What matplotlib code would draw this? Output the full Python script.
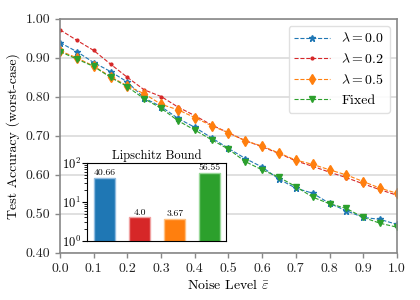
import numpy as np
import matplotlib
matplotlib.use('Agg')
import matplotlib.pyplot as plt

plt.rcParams['font.family'] = 'serif'
plt.rcParams['font.serif'] = ['cmr10']
plt.rcParams['mathtext.fontset'] = 'cm'
plt.rcParams['axes.formatter.use_mathtext'] = True

# noise levels
noise = [0.0, 0.05, 0.1, 0.15, 0.2, 0.25, 0.3, 0.35, 0.4, 0.45, 0.5,
         0.55, 0.6, 0.65, 0.7, 0.75, 0.8, 0.85, 0.9, 0.95, 1.0]

acc_l00 = [0.939, 0.916, 0.888, 0.865, 0.838, 0.797, 0.775, 0.745, 0.722, 0.695, 0.668,
           0.642, 0.620, 0.589, 0.566, 0.553, 0.527, 0.508, 0.491, 0.486, 0.473]
acc_l02 = [0.972, 0.945, 0.919, 0.884, 0.850, 0.818, 0.801, 0.774, 0.752, 0.728, 0.708,
           0.688, 0.672, 0.655, 0.636, 0.622, 0.607, 0.593, 0.577, 0.562, 0.548]
acc_l05 = [0.918, 0.900, 0.879, 0.852, 0.828, 0.808, 0.781, 0.767, 0.747, 0.726, 0.708,
           0.687, 0.674, 0.656, 0.638, 0.627, 0.613, 0.600, 0.583, 0.566, 0.553]
acc_fixed = [0.916, 0.897, 0.878, 0.850, 0.826, 0.795, 0.771, 0.739, 0.715, 0.690, 0.666,
             0.634, 0.613, 0.594, 0.570, 0.543, 0.526, 0.514, 0.491, 0.476, 0.466]

# inset: lipschitz bounds
lip_vals = [40.66, 4.0, 3.67, 56.55]
lip_labels = ['40.66', '4.0', '3.67', '56.55']
lip_colors = ['tab:blue', 'tab:red', 'tab:orange', 'tab:green']
lip_edges = ['#8fbbe0', '#f0a0a0', '#ffc080', '#98d898']

fig = plt.figure(figsize=(4.2, 3.0), dpi=100)
ax = fig.add_axes([0.143, 0.157, 0.802, 0.78])

ax.plot(noise, acc_l00, '--', color='tab:blue', marker='*', ms=5, lw=0.8, label='$\\lambda = 0.0$')
ax.plot(noise, acc_l02, '--', color='tab:red', marker='.', ms=4, lw=0.8, label='$\\lambda = 0.2$')
ax.plot(noise, acc_l05, '--', color='tab:orange', marker='d', ms=5, lw=0.8, label='$\\lambda = 0.5$')
ax.plot(noise, acc_fixed, '--', color='tab:green', marker='v', ms=5, lw=0.8, label='Fixed')

ax.set_xlim(0, 1)
ax.set_ylim(0.4, 1.0)
ax.set_xticks(np.arange(0, 1.01, 0.1))
ax.set_yticks(np.arange(0.4, 1.01, 0.1))
ax.set_xticklabels(['%.1f' % v for v in np.arange(0, 1.01, 0.1)])
ax.set_yticklabels(['%.2f' % v for v in np.arange(0.4, 1.01, 0.1)])
ax.yaxis.grid(True, color='#dddddd', lw=1.3)
ax.set_axisbelow(True)
for s in ax.spines.values():
    s.set_color('#888888')
    s.set_linewidth(1.2)
ax.tick_params(colors='#888888', labelcolor='#222222', labelsize=10, width=1.0)
ax.set_xlabel('Noise Level $\\bar{\\varepsilon}$', fontsize=10, labelpad=2)
ax.set_ylabel('Test Accuracy (worst-case)', fontsize=10)
ax.legend(loc='upper right', fontsize=10, handlelength=2.6, framealpha=0.9, edgecolor='#dddddd')

# inset bar chart
ins = fig.add_axes([0.207, 0.197, 0.331, 0.26])
xs = np.arange(len(lip_vals))
ins.bar(xs, lip_vals, width=0.6, color=lip_colors, edgecolor=lip_edges, lw=1.0)
ins.set_yscale('log')
ins.set_ylim(1, 100)
ins.set_xlim(-0.51, 3.46)
ins.set_xticks([])
for x, v, t in zip(xs, lip_vals, lip_labels):
    ins.text(x, v * 1.04, t, ha='center', va='bottom', fontsize=7)
ins.set_title('Lipschitz Bound', fontsize=9, pad=3)
ins.tick_params(labelsize=9, pad=1)

fig.savefig('out.png', dpi=100)
